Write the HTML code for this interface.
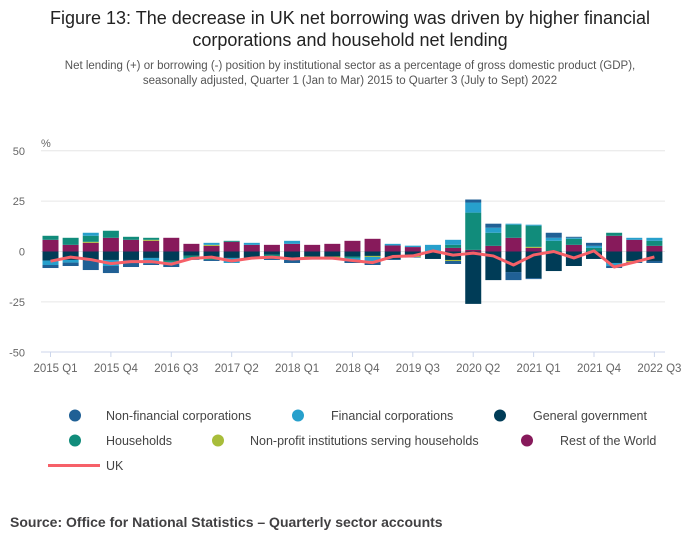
<!DOCTYPE html>
<html><head><meta charset="utf-8">
<style>
body{margin:0;background:#fff;width:700px;height:549px;overflow:hidden;font-family:"Liberation Sans",sans-serif;}
</style></head>
<body>
<svg id="chart" width="700" height="549" style="position:absolute;left:0;top:0">
<text x="350" y="24" text-anchor="middle" font-size="18" fill="#222">Figure 13: The decrease in UK net borrowing was driven by higher financial</text>
<text x="350" y="46" text-anchor="middle" font-size="18" fill="#222">corporations and household net lending</text>
<text x="350" y="69" text-anchor="middle" font-size="11.5" fill="#555">Net lending (+) or borrowing (-) position by institutional sector as a percentage of gross domestic product (GDP),</text>
<text x="350" y="84" text-anchor="middle" font-size="11.5" fill="#555">seasonally adjusted, Quarter 1 (Jan to Mar) 2015 to Quarter 3 (July to Sept) 2022</text>
<text x="41" y="147" font-size="11" fill="#666">%</text>
<g id="grid"></g><g id="bars"></g><g id="line"></g><g id="xaxis"></g>
<g id="legend" font-size="12.5" fill="#444"></g>
<text x="10" y="527" font-size="14" font-weight="bold" fill="#414042">Source: Office for National Statistics – Quarterly sector accounts</text>
</svg>
<script>
const quarters=[];for(let y=2015;y<=2022;y++)for(let q=1;q<=4;q++){if(y==2022&&q>3)break;quarters.push(y+" Q"+q);}
const nfc=[-1.5,-1.7,-4.7,-3.5,-3.5,-0.8,-1.5,0,-0.5,0,-0.5,-1,-1.5,-1,-1,-1.5,-2,-0.5,-0.3,0,-1.5,1.5,2,-4,-0.5,2.5,0.5,1.5,-1,-0.5,-1];
const fc=[-2.2,-1.3,1.5,-3,0,-2.7,-1,-1,1,-2.5,1,0,1.5,0,0,-1,-2,0.8,0.7,3.3,2.5,5,2.5,0.5,0.5,1.5,0.5,1,-1.5,1,1.5];
const gg=[-4.5,-4.2,-4.5,-4.2,-4.2,-3.2,-4.5,-2,-2.5,-3.2,-3.2,-1.5,-3.5,-2.5,-2.5,-2.5,-2.2,-3.7,-2.2,-3.7,-4.2,-26,-14.2,-10.2,-13.2,-9.7,-7.2,-3.7,-5.7,-4.7,-4.7];
const hh=[2,3.5,3,3.5,1.5,1,-0.7,-1.2,-1.7,0.5,0,-1.7,0,0,0,-0.7,0,0,0,0,1.5,18.5,6.5,6.5,10.5,5.3,3,1.8,1.5,0,2.5];
const npish=[0,0,0.5,0,0,0.5,0,0,0.5,0,0,0,-0.7,-0.5,-0.5,0,-0.5,0,-0.5,0,-0.5,0,0,0,0.5,0,0,0,0,-0.5,0];
const row=[5.8,3.3,4.3,6.8,5.8,5.3,6.8,3.8,2.8,4.8,3.3,3.3,3.8,3.3,3.8,5.3,6.3,3,2.2,0,1.8,0.8,2.8,6.8,1.8,0,3.3,0,7.8,5.8,2.8];
const uk=[-4.8,-2.8,-4,-6,-5,-5,-6.3,-3.5,-2.8,-4.7,-3.3,-2.8,-3.7,-3.3,-3.3,-4.5,-5.5,-2.5,-2.2,0.3,-1.8,-0.8,-2.2,-6.7,-1.7,0,-3.2,0.3,-7.7,-5.3,-2.7];
const yTicks=[50,25,0,-25,-50];
const series=[["nfc",nfc,"#206095","Non-financial corporations"],["fc",fc,"#27a0cc","Financial corporations"],["gg",gg,"#003c57","General government"],["hh",hh,"#118c7b","Households"],["npish",npish,"#a8bd3a","Non-profit institutions serving households"],["row",row,"#871a5b","Rest of the World"]];
const NS="http://www.w3.org/2000/svg";
function mk(t,a,p){const e=document.createElementNS(NS,t);for(const k in a)e.setAttribute(k,a[k]);p.appendChild(e);return e;}
const y=v=>251.5-v*2.015;
const x=i=>50.5+i*20.13;
const G=document.getElementById('grid');
yTicks.forEach(t=>{
 if(t!==-50){const l=mk('line',{x1:41,x2:665,y1:y(t),y2:y(t),stroke:'#e6e6e6','stroke-width':1},G);
 
 }
 const tx=mk('text',{x:25,y:y(t)+4,'text-anchor':'end','font-size':11,fill:'#666'},G);tx.textContent=t;
 
 
});
const B=document.getElementById('bars');
quarters.forEach((q,i)=>{
 let pos=0,neg=0;
 const posOrd=[5,4,3,1,0,2], negOrd=[2,3,4,5,1,0];
 posOrd.forEach(k=>{const v=series[k][1][i];if(v>0){const r=mk('rect',{x:x(i)-8,width:16,y:y(pos+v),height:v*2.015,fill:series[k][2]},B);pos+=v;
  
  }});
 negOrd.forEach(k=>{const v=series[k][1][i];if(v<0){const r=mk('rect',{x:x(i)-8,width:16,y:y(neg),height:-v*2.015,fill:series[k][2]},B);neg+=v;
  
  }});
});
const L=document.getElementById('line');
const p=mk('polyline',{points:uk.map((v,i)=>x(i)+','+y(v)).join(' '),fill:'none',stroke:'#f66068','stroke-width':3,'stroke-linejoin':'round'},L);


const X=document.getElementById('xaxis');
const ax=mk('line',{x1:41,x2:665,y1:352,y2:352,stroke:'#ccd6eb'},X);


quarters.forEach((q,i)=>{if(i%3)return;
 mk('line',{x1:x(i),x2:x(i),y1:352,y2:357,stroke:'#ccd6eb'},X);
 const t=mk('text',{x:x(i)+5,y:372,'text-anchor':'middle','font-size':11.5,fill:'#666'},X);t.textContent=q;
 
 
});
const LG=document.getElementById('legend');
const pos=[[75,106,420],[298,331,420],[500,533,420],[75,106,445],[218,250,445],[527,560,445]];
series.forEach((s,k)=>{const [cx,tx,yy]=pos[k];
 const g=mk('g',{},LG);
 
 
 mk('circle',{cx:cx,cy:yy-4.5,r:6,fill:s[2]},g);
 const t=mk('text',{x:tx,y:yy},g);t.textContent=s[3];});
const gu=mk('g',{},LG);


mk('line',{x1:48,x2:100,y1:465.5,y2:465.5,stroke:'#f66068','stroke-width':3},gu);
const tu=mk('text',{x:106,y:470},gu);tu.textContent='UK';
</script>
</body></html>
